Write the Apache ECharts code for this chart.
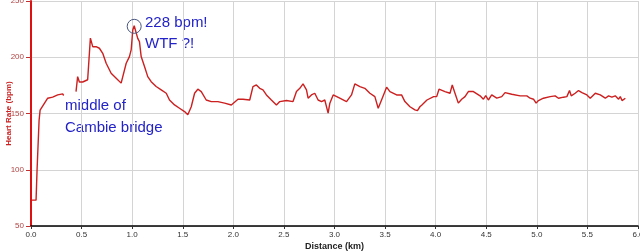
<!DOCTYPE html>
<html>
<head>
<meta charset="utf-8">
<script src="https://cdn.jsdelivr.net/npm/echarts@6/dist/echarts.min.js"></script>
<style>html,body{margin:0;padding:0;background:#fff;}#c{width:640px;height:251px;}</style>
</head>
<body>
<div id="c"></div>
<script>
const distances = [0.006,0.05,0.06,0.08,0.09,0.165,0.214,0.264,0.313,0.323,0.38,
0.445,0.461,0.478,0.511,0.560,0.587,0.610,0.643,0.676,0.709,0.743,0.792,0.842,0.891,0.907,0.941,0.973,0.990,1.006,1.02,
1.055,1.072,1.089,1.122,1.154,1.188,1.237,1.287,1.337,1.369,1.419,1.468,1.518,1.550,1.584,1.617,1.649,1.683,1.732,1.782,1.847,1.914,1.980,
2.046,2.095,2.162,2.194,2.228,2.261,2.293,2.327,2.376,2.426,2.459,2.525,2.590,2.624,2.657,2.689,2.723,2.739,2.772,2.805,2.838,2.872,2.904,2.937,2.954,2.987,
3.052,3.119,3.168,3.201,3.251,3.300,3.350,3.399,3.432,3.465,3.515,3.548,3.614,3.663,3.696,3.746,3.795,3.820,3.844,3.864,3.914,3.980,
4.010,4.033,4.092,4.142,4.164,4.191,4.224,4.257,4.290,4.323,4.373,4.439,4.472,4.495,4.521,4.554,4.604,4.653,4.686,4.752,4.835,4.901,4.934,4.967,4.993,
5.016,5.065,5.132,5.181,5.214,5.264,5.297,5.323,5.340,5.379,5.412,5.446,5.495,5.528,5.578,5.627,5.677,5.709,5.742,5.775,5.808,5.825,5.842,5.875];
const heartRates = [73,73,100,144,153,163.6,164.5,166.5,167.4,166,null,
169.5,182.8,178,178,180,217,209.4,209.4,208,203.5,194.7,185.8,181.4,177,178.3,194.7,200.6,206.5,224.2,228,
216.8,213.9,200.6,191.7,182.8,178.3,174,171,168,162,157.6,154.7,151.7,148.8,156,168,171.6,169.5,162,160.6,160.6,159.2,157.6,
162.7,162.7,162,173.9,175.4,172.4,171,166.5,162,157.6,160.6,161.5,160.6,169.5,172.4,176.3,171,163.6,166.5,168,162,160.6,162,150.3,159.2,166.5,
163.6,160.6,166.5,176.3,173.9,172.4,168,165,154.7,162,173.4,169.5,166.5,166.5,160.6,156,153.2,152.6,156,157.6,162,165,
165,171.6,169.5,168,175.4,168,159.2,162.7,165,169.5,169.5,165.7,162.7,165.9,162,166.5,163.6,165,168.6,167.1,165.7,165.7,163.6,162.7,159.2,
161.5,163.6,165,165.7,163.6,164.5,165,170.4,165.7,168,170.4,168.6,166.5,163.6,168,166.5,163.6,165.7,164.5,165.7,162.7,165,161.5,163.6];
const peak = [1.02, 227.5];
const xTicks = {min: 0, max: 6, interval: 0.5};
const yTicks = {min: 50, max: 250, interval: 50};

const chart = echarts.init(document.getElementById('c'));
const pts = distances.map((d, i) => [d, heartRates[i]]);
const annFont = {fontFamily: 'Liberation Sans', fontSize: 15, fill: '#2323c8'};
chart.setOption({
  animation: false,
  backgroundColor: '#fff',
  grid: {left: 31, right: 2, top: 1, bottom: 25, containLabel: false, outerBoundsMode: 'none'},
  xAxis: {
    type: 'value', min: xTicks.min, max: xTicks.max, interval: xTicks.interval,
    name: 'Distance (km)', nameLocation: 'middle', nameGap: 16, nameMoveOverlap: false,
    nameTextStyle: {fontFamily: 'Liberation Sans', fontSize: 9, fontWeight: 'bold', color: '#222'},
    axisLine: {lineStyle: {color: '#000', width: 1.5}},
    axisTick: {show: true, length: 3, lineStyle: {color: '#333'}},
    axisLabel: {fontFamily: 'Liberation Sans', fontSize: 8, color: '#333', margin: 5,
      formatter: v => v.toFixed(1)},
    splitLine: {show: true, lineStyle: {color: '#d4d4d4', width: 1}}
  },
  yAxis: {
    type: 'value', min: yTicks.min, max: yTicks.max, interval: yTicks.interval,
    name: 'Heart Rate (bpm)', nameLocation: 'middle', nameGap: 18, nameMoveOverlap: false,
    nameTextStyle: {fontFamily: 'Liberation Sans', fontSize: 8, fontWeight: 'bold', color: '#cc2222'},
    axisLine: {show: true, lineStyle: {color: '#e01010', width: 2}},
    axisTick: {show: true, length: 5, lineStyle: {color: '#c03030'}},
    axisLabel: {fontFamily: 'Liberation Sans', fontSize: 8, color: '#b04444', margin: 7},
    splitLine: {show: true, lineStyle: {color: '#d4d4d4', width: 1}}
  },
  series: [{
    type: 'line', data: pts, showSymbol: false, connectNulls: false,
    lineStyle: {color: '#cc1f1f', width: 1.4},
    markPoint: {
      data: [{coord: peak, symbol: 'circle', symbolSize: 14,
        itemStyle: {color: 'rgba(0,0,0,0)', borderColor: '#4a5680', borderWidth: 1},
        label: {show: false}}],
      animation: false
    }
  }],
  graphic: [
    {type: 'text', left: 145, top: 15, style: Object.assign({text: '228 bpm!'}, annFont)},
    {type: 'text', left: 145, top: 36, style: Object.assign({text: 'WTF ?!'}, annFont)},
    {type: 'text', left: 65, top: 98, style: Object.assign({text: 'middle of'}, annFont)},
    {type: 'text', left: 65, top: 120, style: Object.assign({text: 'Cambie bridge'}, annFont)}
  ]
});
</script>
</body>
</html>
